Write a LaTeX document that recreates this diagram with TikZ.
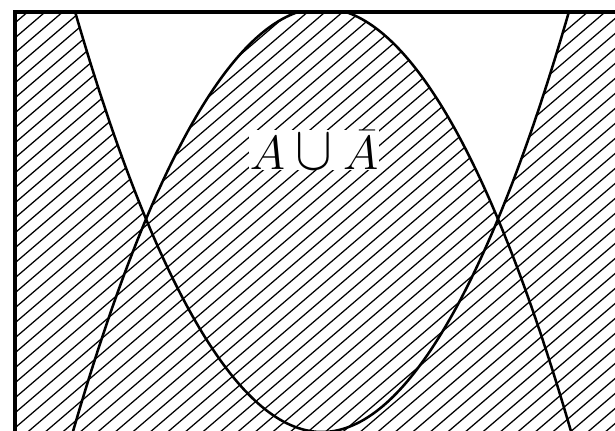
\documentclass[tikz,border=0pt]{standalone}
\usepackage{graphicx}
\usetikzlibrary{calc}

\begin{document}
\begin{tikzpicture}[
        x=0.025cm, y=-0.025cm,
        frameLine/.style={
            line width=2.4pt
        },
        setCurve/.style={
            line width=1.8pt
        },
        hatchLine/.style={
            line width=0.9pt
        },
        setLabel/.style={
            fill=white,
            inner sep=0.5pt,
            font=\Huge
        }
    ]

    % Window (frame runs past the right and bottom edge)
    \clip (0,0) rectangle (615,430);

    % Hatching over the whole frame
    \begin{scope}
        \clip (15,12) rectangle (640,460);
        \foreach \c in {-600,-582.5,...,660}
            \draw[hatchLine] (\c,460) -- ++(560,-480);
    \end{scope}

    % White part: inside the cup, outside the cap
    \begin{scope}
        \clip (66,-20) parabola bend (322,432) (578,-20) -- cycle;
        \fill[white, even odd rule] (0,-30) rectangle (650,480)
            (62,470) parabola bend (322,8) (582,470) -- cycle;
    \end{scope}

    % The two curves
    \begin{scope}
        \clip (15,12) rectangle (640,460);
        \draw[setCurve] (62,470) parabola bend (322,8) (582,470);
        \draw[setCurve] (66,-20) parabola bend (322,432) (578,-20);
    \end{scope}

    \draw[frameLine] (15,12) rectangle (640,460);

    % Label
    \node[setLabel] (unionLabel) at (314,150)
        {\scalebox{1.37}{$A\mathbin{\scalebox{1.15}[1.3]{$\cup$}}\bar{A}$}};

\end{tikzpicture}
\end{document}
